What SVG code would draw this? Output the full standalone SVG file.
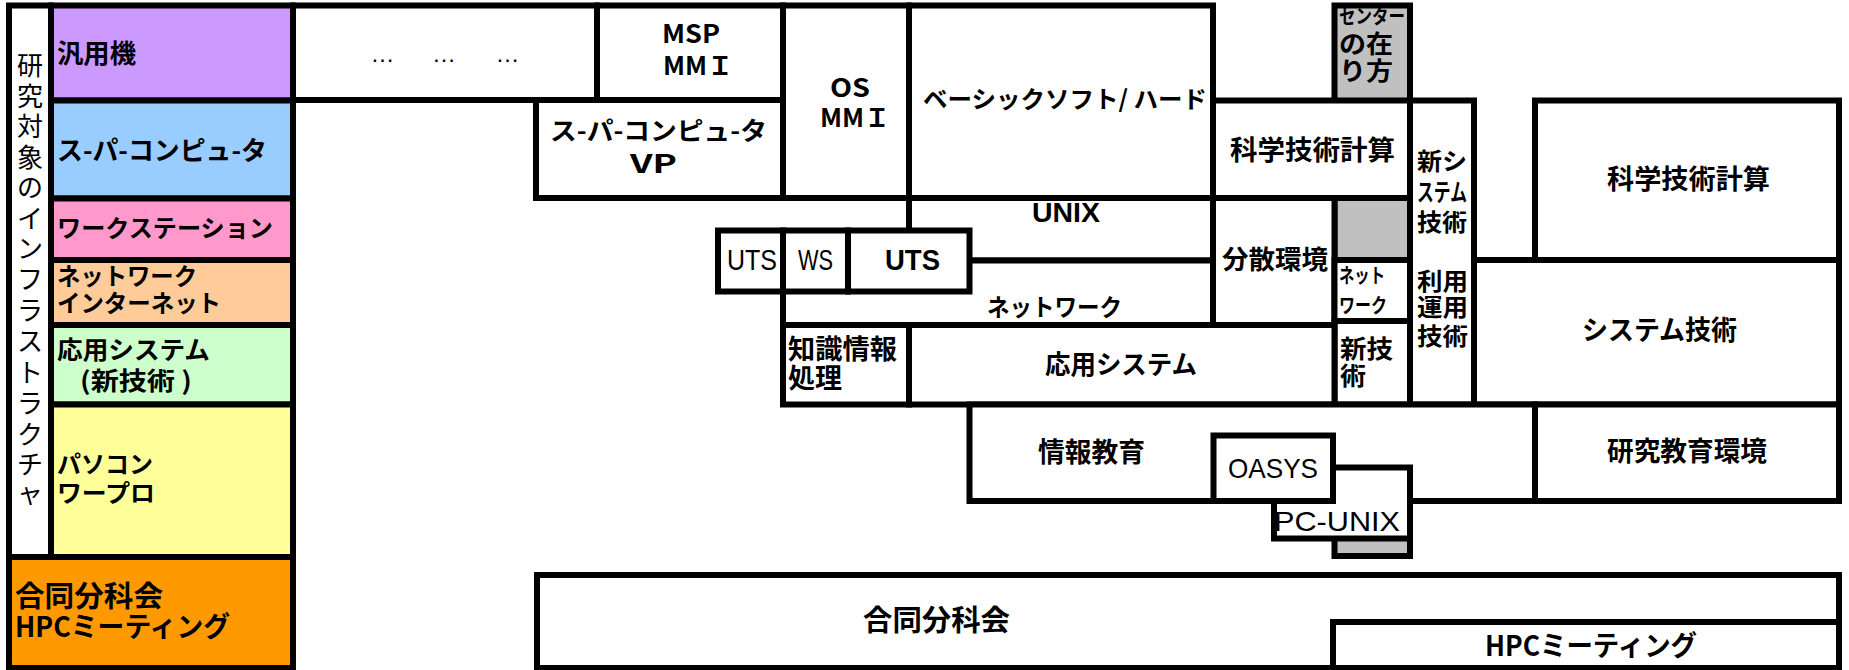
<svg xmlns="http://www.w3.org/2000/svg" width="1849" height="670" viewBox="0 0 1849 670">
<style>
.bx{stroke:#000;stroke-width:6;fill:#fff}
text{fill:#000}
.j{font-family:"Noto Sans CJK JP","Noto Sans CJK SC",sans-serif;font-weight:700}
.m{font-family:"Noto Sans CJK JP","Noto Sans CJK SC",sans-serif;font-weight:700}
.r{font-family:"Noto Sans CJK JP","Noto Sans CJK SC",sans-serif;font-weight:400}
.l{font-family:"Liberation Sans",Arial,sans-serif;font-weight:400}
.lb{font-family:"Liberation Sans",Arial,sans-serif;font-weight:700}
</style>
<rect x="0" y="0" width="1849" height="670" fill="#fff"/>
<g id="left-panel">
  <g id="label-column">
    <rect class="bx" x="9" y="5.5" width="42" height="551.5"/>
    <text class="r" font-size="26" text-anchor="middle">
      <tspan x="30" y="75">研</tspan><tspan x="30" y="105.6">究</tspan><tspan x="30" y="136.1">対</tspan><tspan x="30" y="166.7">象</tspan><tspan x="30" y="197.3">の</tspan><tspan x="30" y="227.9">イ</tspan><tspan x="30" y="258.4">ン</tspan><tspan x="30" y="289">フ</tspan><tspan x="30" y="319.6">ラ</tspan><tspan x="30" y="351">ス</tspan><tspan x="30" y="381.5">ト</tspan><tspan x="30" y="412.5">ラ</tspan><tspan x="30" y="443.5">ク</tspan><tspan x="30" y="473.5">チ</tspan><tspan x="30" y="503">ャ</tspan>
    </text>
  </g>
  <g id="row-mainframe">
    <rect class="bx" x="51" y="5.5" width="242" height="95" style="fill:#CC99FF"/>
    <text class="j" x="57" y="63" font-size="26" textLength="79" lengthAdjust="spacingAndGlyphs">汎用機</text>
  </g>
  <g id="row-super">
    <rect class="bx" x="51" y="100.5" width="242" height="98" style="fill:#99CCFF"/>
    <text class="j" x="57" y="160" font-size="26" textLength="210" lengthAdjust="spacingAndGlyphs">ス-パ-コンピュ-タ</text>
  </g>
  <g id="row-ws">
    <rect class="bx" x="51" y="198.5" width="242" height="61.5" style="fill:#FF99CC"/>
    <text class="j" x="57" y="237" font-size="24" textLength="216" lengthAdjust="spacingAndGlyphs">ワークステーション</text>
  </g>
  <g id="row-network">
    <rect class="bx" x="51" y="260" width="242" height="65" style="fill:#FFCC99"/>
    <text class="j" x="57" y="285" font-size="24" textLength="140" lengthAdjust="spacingAndGlyphs">ネットワーク</text>
    <text class="j" x="57" y="311.5" font-size="24" textLength="164" lengthAdjust="spacingAndGlyphs">インターネット</text>
  </g>
  <g id="row-apps">
    <rect class="bx" x="51" y="325" width="242" height="79.5" style="fill:#CCFFCC"/>
    <text class="j" x="57" y="359" font-size="25" textLength="153" lengthAdjust="spacingAndGlyphs">応用システム</text>
    <text class="j" x="80" y="390" font-size="25" textLength="112" lengthAdjust="spacingAndGlyphs">(新技術 )</text>
  </g>
  <g id="row-pc">
    <rect class="bx" x="51" y="404.5" width="242" height="152.5" style="fill:#FFFF99"/>
    <text class="j" x="57" y="472.5" font-size="24" textLength="96" lengthAdjust="spacingAndGlyphs">パソコン</text>
    <text class="j" x="57" y="501.5" font-size="24" textLength="98" lengthAdjust="spacingAndGlyphs">ワープロ</text>
  </g>
  <g id="row-meeting">
    <rect class="bx" x="9" y="557" width="284" height="111" style="fill:#FF9900"/>
    <text class="j" x="15" y="606.5" font-size="29" textLength="148" lengthAdjust="spacingAndGlyphs">合同分科会</text>
    <text class="j" x="15" y="637" font-size="28" textLength="215" lengthAdjust="spacingAndGlyphs">HPCミーティング</text>
  </g>
</g>
<g id="center-strip">
  <rect class="bx" x="1334.5" y="5.5" width="75.5" height="550.5" style="fill:#C0C0C0"/>
  <text class="j" x="1339" y="24" font-size="20" textLength="66" lengthAdjust="spacingAndGlyphs">センター</text>
  <text class="j" x="1339" y="53" font-size="25" textLength="54" lengthAdjust="spacingAndGlyphs">の在</text>
  <text class="j" x="1339" y="80" font-size="25" textLength="54" lengthAdjust="spacingAndGlyphs">り方</text>
</g>
<g id="dots-cell">
  <rect class="bx" x="293" y="5.5" width="304" height="94.5"/>
  <text class="l" y="62" font-size="24" text-anchor="middle"><tspan x="382.5">…</tspan><tspan x="444">…</tspan><tspan x="507.5">…</tspan></text>
</g>
<g id="msp">
  <rect class="bx" x="597" y="5.5" width="186" height="94.5"/>
  <text class="m" x="662" y="43" font-size="25" textLength="58" lengthAdjust="spacingAndGlyphs">MSP</text>
  <text class="m" x="663" y="75" font-size="25" textLength="70" lengthAdjust="spacingAndGlyphs">MMＩ</text>
</g>
<g id="os">
  <rect class="bx" x="783" y="5.5" width="126" height="192.5"/>
  <text class="m" x="830" y="97" font-size="25" textLength="40" lengthAdjust="spacingAndGlyphs">OS</text>
  <text class="m" x="820" y="127" font-size="25" textLength="70" lengthAdjust="spacingAndGlyphs">MMＩ</text>
</g>
<g id="basic">
  <rect class="bx" x="909" y="5.5" width="304" height="192.5"/>
  <text class="m" x="923" y="108" font-size="24" textLength="284" lengthAdjust="spacingAndGlyphs">ベーシックソフト/ ハード</text>
</g>
<g id="super-vp">
  <rect class="bx" x="536" y="100" width="247" height="98"/>
  <text class="m" x="550" y="140" font-size="25" textLength="217" lengthAdjust="spacingAndGlyphs">ス-パ-コンピュ-タ</text>
  <text class="m" x="630" y="173" font-size="25" textLength="47" lengthAdjust="spacingAndGlyphs">VP</text>
</g>
<g id="sci-mid">
  <rect class="bx" x="1213" y="100.5" width="197" height="97.5"/>
  <text class="j" x="1230" y="159.5" font-size="27" textLength="165" lengthAdjust="spacingAndGlyphs">科学技術計算</text>
</g>
<g id="distributed">
  <rect class="bx" x="1213" y="198" width="121.5" height="127"/>
  <text class="j" x="1222" y="269" font-size="26" textLength="106" lengthAdjust="spacingAndGlyphs">分散環境</text>
</g>
<g id="small-network">
  <rect class="bx" x="1334.5" y="260" width="75.5" height="61"/>
  <text class="j" x="1339" y="283" font-size="20" textLength="46" lengthAdjust="spacingAndGlyphs">ネット</text>
  <text class="j" x="1339" y="312.5" font-size="20" textLength="48" lengthAdjust="spacingAndGlyphs">ワーク</text>
</g>
<g id="new-tech">
  <rect class="bx" x="1334.5" y="321" width="75.5" height="83.5"/>
  <text class="j" x="1340" y="357.5" font-size="25" textLength="53" lengthAdjust="spacingAndGlyphs">新技</text>
  <text class="j" x="1340" y="385" font-size="25" textLength="26" lengthAdjust="spacingAndGlyphs">術</text>
</g>
<g id="new-system-col">
  <rect class="bx" x="1410" y="100.5" width="64" height="304"/>
  <text class="j" x="1417" y="170" font-size="24" textLength="50" lengthAdjust="spacingAndGlyphs">新シ</text>
  <text class="j" x="1417" y="201" font-size="24" textLength="50" lengthAdjust="spacingAndGlyphs">ステム</text>
  <text class="j" x="1417" y="231" font-size="24" textLength="50" lengthAdjust="spacingAndGlyphs">技術</text>
  <text class="j" x="1417" y="289.5" font-size="24" textLength="51" lengthAdjust="spacingAndGlyphs">利用</text>
  <text class="j" x="1417" y="316" font-size="24" textLength="51" lengthAdjust="spacingAndGlyphs">運用</text>
  <text class="j" x="1417" y="344.5" font-size="24" textLength="51" lengthAdjust="spacingAndGlyphs">技術</text>
</g>
<g id="sci-right">
  <rect class="bx" x="1535" y="100.5" width="304" height="159.5"/>
  <text class="j" x="1607" y="188.5" font-size="27" textLength="163" lengthAdjust="spacingAndGlyphs">科学技術計算</text>
</g>
<g id="system-tech">
  <rect class="bx" x="1474" y="260" width="365" height="144.5"/>
  <text class="j" x="1582" y="340" font-size="27" textLength="155" lengthAdjust="spacingAndGlyphs">システム技術</text>
</g>
<g id="research-env">
  <rect class="bx" x="1535" y="404.5" width="304" height="96.5"/>
  <text class="j" x="1607" y="461" font-size="27" textLength="160" lengthAdjust="spacingAndGlyphs">研究教育環境</text>
</g>
<g id="unix">
  <rect class="bx" x="909" y="198" width="304" height="62.5"/>
  <text class="lb" x="1032" y="222" font-size="28" textLength="68" lengthAdjust="spacingAndGlyphs">UNIX</text>
</g>
<g id="network-mid">
  <rect class="bx" x="783" y="260.5" width="430" height="64.5"/>
  <text class="j" x="987" y="316" font-size="24" textLength="135" lengthAdjust="spacingAndGlyphs">ネットワーク</text>
</g>
<g id="uts-1">
  <rect class="bx" x="718" y="230.5" width="65" height="61"/>
  <text class="l" x="727" y="270" font-size="30" textLength="50" lengthAdjust="spacingAndGlyphs">UTS</text>
</g>
<g id="ws">
  <rect class="bx" x="783" y="230.5" width="65" height="61"/>
  <text class="l" x="798" y="270" font-size="30" textLength="35" lengthAdjust="spacingAndGlyphs">WS</text>
</g>
<g id="uts-2">
  <rect class="bx" x="848" y="230.5" width="121.5" height="61"/>
  <text class="lb" x="885" y="270" font-size="30" textLength="55" lengthAdjust="spacingAndGlyphs">UTS</text>
</g>
<g id="knowledge">
  <rect class="bx" x="783" y="325" width="126" height="79.5"/>
  <text class="j" x="788" y="358.5" font-size="27" textLength="109" lengthAdjust="spacingAndGlyphs">知識情報</text>
  <text class="j" x="788" y="387.5" font-size="27" textLength="54" lengthAdjust="spacingAndGlyphs">処理</text>
</g>
<g id="applied">
  <rect class="bx" x="909" y="325" width="425.5" height="79.5"/>
  <text class="j" x="1045" y="373.5" font-size="26" textLength="152" lengthAdjust="spacingAndGlyphs">応用システム</text>
</g>
<g id="info-edu">
  <rect class="bx" x="969.5" y="404.5" width="565.5" height="96.5"/>
  <text class="j" x="1038" y="462" font-size="27" textLength="107" lengthAdjust="spacingAndGlyphs">情報教育</text>
</g>
<g id="pc-unix">
  <rect class="bx" x="1274" y="467.5" width="136" height="71"/>
  <text class="l" x="1274" y="531" font-size="28" textLength="126" lengthAdjust="spacingAndGlyphs">PC-UNIX</text>
</g>
<g id="oasys">
  <rect class="bx" x="1213.5" y="435.5" width="119.5" height="65.5"/>
  <text class="l" x="1228" y="478" font-size="28" textLength="90" lengthAdjust="spacingAndGlyphs">OASYS</text>
</g>
<g id="joint">
  <rect class="bx" x="537" y="575" width="1302" height="93"/>
  <text class="j" x="863" y="630.5" font-size="29" textLength="147" lengthAdjust="spacingAndGlyphs">合同分科会</text>
</g>
<g id="hpc">
  <rect class="bx" x="1333" y="622" width="506" height="46"/>
  <text class="m" x="1485" y="656" font-size="28" textLength="212" lengthAdjust="spacingAndGlyphs">HPCミーティング</text>
</g>
<g id="connectors"></g>
</svg>
